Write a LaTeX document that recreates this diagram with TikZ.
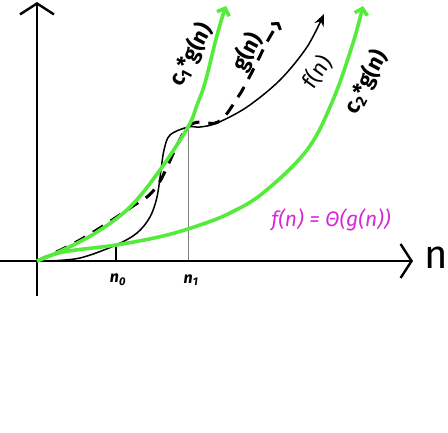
\documentclass[tikz,border=0pt]{standalone}
\usepackage{fontspec}
\setmainfont{Fira Sans}
\usetikzlibrary{arrows.meta}
\definecolor{boundgreen}{RGB}{85,235,60}
\definecolor{thetapink}{RGB}{215,40,215}
\begin{document}
\begin{tikzpicture}[x=1pt,y=-1pt,
	axis/.style={line width=2.4pt,-{Straight Barb[length=11pt,width=34pt]}},
	bound/.style={boundgreen,line width=3.6pt,-{Straight Barb[length=6pt,width=13pt]}},
	fcurve/.style={line width=1.5pt,-{Stealth[length=12pt,width=10pt]}},
	gcurve/.style={line width=3pt,dash pattern=on 12pt off 9pt,-{Straight Barb[length=4pt,width=11pt]}},
	curvelabel/.style={font=\bfseries\fontsize{22}{22}\selectfont,rotate=62,inner sep=0pt},
	tick/.style={font=\bfseries\itshape\fontsize{16}{16}\selectfont,inner sep=0pt}]
\useasboundingbox (0,0) rectangle (448,432);
\coordinate (O) at (37,261);
\coordinate (ytop) at (37,2);
\coordinate (ybot) at (37,296);
\coordinate (xleft) at (0,261);
\coordinate (xright) at (413,261);
\coordinate (p0) at (116,245);
\coordinate (p1) at (188,127);
\draw[line width=1.2pt] (p0) -- (p0 |- O);
\draw[gray,line width=1pt] (p1) -- (p1 |- O);
\draw[axis] (ybot) -- (ytop);
\draw[axis] (xleft) -- (xright);
\node[font=\fontsize{40}{40}\selectfont,inner sep=0pt] (n) at (436,258) {n};
\node[tick] (n0) at (118,280) {n\textsubscript{0}};
\node[tick] (n1) at (191,280) {n\textsubscript{1}};
\draw[gcurve] plot[smooth,tension=0.6] coordinates {(O) (80,240) (130,208) (157,186) (p1) (218,122) (238,97) (252,72) (267,42) (279,22)};
\draw[fcurve] plot[smooth,tension=0.55] coordinates {(47,261) (80,258) (p0) (137,233) (150,217) (157,197) (161,170) (164,150) (170,135) (p1) (200,127) (217,123) (247,107) (280,80) (307,47) (324,14)};
\draw[bound] plot[smooth,tension=0.6] coordinates {(O) (63,250) (97,232) (130,207) (160,170) (p1) (197,105) (205,83) (215,43) (222,18) (226,6)};
\draw[bound] plot[smooth,tension=0.6] coordinates {(O) (63,252) (p0) (163,236) (200,225) (230,213) (263,193) (307,150) (333,100) (353,43) (363,6)};
\node[curvelabel] (c1g) at (191,55) {c\textsubscript{1}*g(n)};
\node[curvelabel] (gl) at (247,52) {g(n)};
\node[curvelabel,font=\fontsize{22}{22}\selectfont,rotate=-8] (fl) at (317,72) {f(n)};
\node[curvelabel] (c2g) at (366,82) {c\textsubscript{2}*g(n)};
\node[thetapink,font=\itshape\fontsize{21}{21}\selectfont] (theta) at (331,220) {f(n) = Θ(g(n))};
\end{tikzpicture}
\end{document}
